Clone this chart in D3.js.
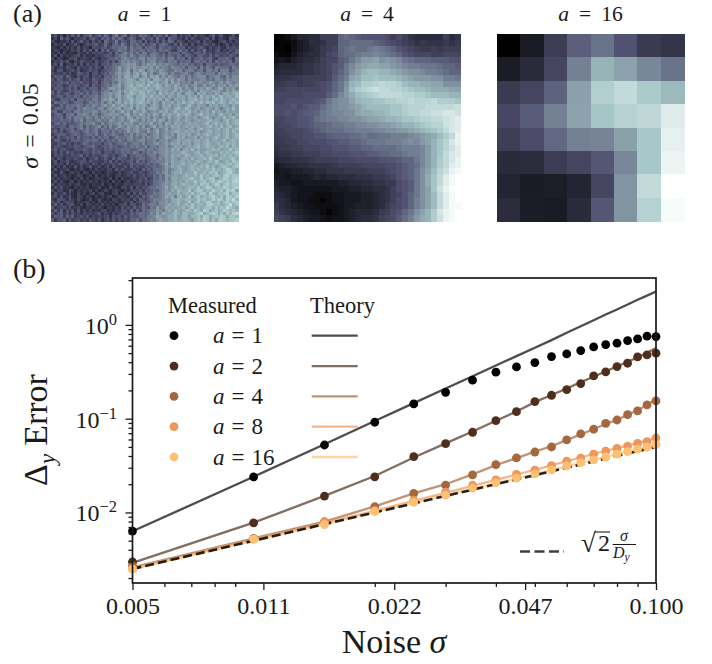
<!DOCTYPE html>
<html>
<head>
<meta charset="utf-8">
<script src="https://cdn.jsdelivr.net/npm/d3@7"></script>
<style>
body{margin:0;background:#fff;}
text{font-family:"Liberation Serif",serif;fill:#1a1a1a;}
</style>
</head>
<body>
<svg id="fig" width="712" height="664"></svg>
<script>
// panel (a)
// a=1: hex digit per cell, typed on a 64x64 grid. The grain is a hand estimate, the real one is too fine to read
var heatA1=[
"3524142636255735"+"6475368467365476"+"7536564735625345"+"2534314624521352",
"2416353143452564"+"3657475763576347"+"4563745275534252"+"5323452513421543",
"4213241524634253"+"5276458465477563"+"7354636476355324"+"3452534213452424",
"1432513353135456"+"3475367586476757"+"4567467643637452"+"5243553524135243",
"3214142425243154"+"4563576778586774"+"7676476565465635"+"3456425345325454",
"2431322435253526"+"2647456877587677"+"5767576764367563"+"6354734356243546",
"3142413214325253"+"5434637579786858"+"8578756476764765"+"3665645354546356",
"2514232345242324"+"3456546788697688"+"7688767576576476"+"5366546465454654",
"4143124452343253"+"2445667689878799"+"6989778688576747"+"4667567436667537",
"2435352143543425"+"3456464798989879"+"7899787687857677"+"4776757476676747",
"3526134352525345"+"2556577799a9a879"+"8a9a898988768786"+"7567477657566776",
"5234254325343535"+"4265678a89a9a99a"+"a9a8a89879887858"+"7858687587777587",
"4255234535234545"+"2456678a89b7a9ba"+"79a98a9877989688"+"8678588785888578",
"5343535236545255"+"3565779a9ab8ab9b"+"b8a78aa979778897"+"6898788869898788",
"3656365325355254"+"5367688a8bb9bb8a"+"b8bab8a8a9879979"+"7899968899769799",
"5365346456354365"+"4576789a9abba8bb"+"ab8bba9b9a8a9979"+"8889978799879899",
"4556564655645356"+"3677687a9abbabab"+"9bcab9ab8b9a8989"+"7a9989a989a8a989",
"5465346565456365"+"4678799b8abcabcb"+"acabcb9ba9ba89a8"+"9a88a89a8a9a8a9a",
"3656456463564666"+"4778aa9a8abbcbab"+"cabacbaaa9bab8a9"+"8b9a9ba89bb8a9a8",
"6365346566466576"+"5789799b9bacbbcb"+"acba9bab9ab9ba9b"+"9a8baa9bab98a9ba",
"6464565466757577"+"5899a9ab8abcbacc"+"abab9cabab9ba8bb"+"a8bab9a9ba9bbabc",
"4566466576476778"+"6899a8ab9acb9bbc"+"bacabab9ba9bab9b"+"ab9cabacabcabbac",
"6436665747767688"+"69a9ba8b9abcabbc"+"9babab9ba8baab9b"+"bcabab9bcacbabcb",
"4766764577756878"+"7979a8ab9bacabcb"+"ab9ba8baab9bacab"+"cabcacbcabcbacbc",
"6447576778768798"+"79a89b9aba9b9bab"+"a8aba8bab9aba9ac"+"a9baa8bab9aba9ba",
"4676577758798887"+"9979a9ab8aab8bab"+"8abba8aba9bcaacb"+"9ab9aba9ba8abaca",
"6744767588788899"+"79989a89b9a8ba9b"+"a89a9bab9acaabac"+"ab9bab9caba9baba",
"4676477858898798"+"6899a9a98ab8a9ba"+"8a9ba8babaacabcb"+"9abcabab9bcaab9b",
"5667478688879879"+"79898a89a8ba8a9a"+"9a8a98a9b9aba9ba"+"ab9abca9abacabca",
"6657667587968878"+"9787a989a89ba98a"+"8a9b9ba8a9ab9aba"+"9abaabcaba9bcabc",
"4675756567878897"+"6978989a8a9a88a9"+"99b89a8ba9bab9ab"+"abaabcabcabacabc",
"6556647767858678"+"9686978a98a99a8a"+"789b8a9a9bab9aba"+"babaabcabacabcab",
"4536566747868678"+"6876879789a89a89"+"9a79a89b8aabaa9b"+"a9bcabaabcabcabc",
"5646356766578678"+"5778686878a89a88"+"7a89b89a9abbaaba"+"bab9abcabbabcacb",
"3566645676567768"+"5686787668797989"+"9789a89a9a8babab"+"9ababcbabcabcabc",
"5364565647566575"+"7677568777897879"+"7989a89ba98bab9a"+"ab9bababcbabcabc",
"3664354666567677"+"5757676876887899"+"7889799a89abaabb"+"abbabcabbabcabcb",
"4355645354576565"+"6466756778678879"+"6889a89a9bab9bab"+"9bbabcbabcabcbcb",
"3554345465456675"+"4565766567687877"+"9688799a89bab9ab"+"abcabcbbabcbcacb",
"4635543355565465"+"5465656677766788"+"6887899a9bab8aba"+"cabaabbcbcabbdbc",
"3535364534355465"+"6355546576768757"+"6879899a9aaabcba"+"abcabcbabacbcbcd",
"2545343545635354"+"4565453567466776"+"5788689a9babaacb"+"abbcabcbcabcbcbc",
"4254244354352446"+"3464364655465677"+"5678798a9ba9abba"+"cabbcbdbabcbbcdb",
"3524353234553544"+"3353635354564756"+"4677888a9baabbab"+"abcbabcbdbabcbdc",
"2534252423534254"+"2534453643465565"+"5757689b8baabcab"+"bcabbcabcbcbcdbd",
"4242523252423523"+"4235254335364544"+"6567678a9babbaab"+"cbbcbdbcabcdcbcd",
"2523342132421324"+"2324425353345436"+"4657778a89abcaab"+"cbcbbcbdbcbcedcb",
"4225213423143142"+"3124322423453354"+"3566879a8abbcabb"+"bdbbcbdcdabcdecb",
"2523423124312314"+"1324213423435345"+"3557687a9abaabcb"+"bcbdbcbcdcbdecdd",
"4242332132413123"+"3212413142234354"+"6347687a8bbaabbc"+"dbbdbcddabcedcde",
"2524213413132423"+"1323142313423453"+"5457788a9ababacb"+"bdbcdbcdcedcdcee",
"5243324234213132"+"2412313224334443"+"6357789a9bbabcbb"+"bcbdcdbcedbdecdd",
"2535232132323122"+"4121422144252535"+"4677889b9acbbabc"+"cbdbcedbcdcedcde",
"4244225313232413"+"1243134213244453"+"6567689a9bacbbbd"+"acddbcceccdbedeb",
"2533524214231341"+"3412134142525364"+"4668789abaacabcb"+"dbcddbecbdcdebdd",
"4525235214313213"+"1323412433253536"+"5687789bab8bcabd"+"acdbccdecbdbedce",
"3255425324212412"+"4213143243425365"+"4678889a9bbcbbcc"+"bbdcdbcecedbedfc",
"5352453413234231"+"4231324224352456"+"6578799a9bbcbabd"+"acdbcedbcdbdecde",
"3635245522414323"+"2423231345255347"+"5788799ababcabcb"+"dbccbdedcdbcdfcd",
"6244535234213242"+"4213324253536457"+"6587a89bababbcac"+"dbcbcddbdbdcfdcb",
"3636253525242423"+"2442324355363647"+"6788a98abacbabcc"+"bdcbedbcdbcedcdc",
"5356352534243434"+"5243243454465677"+"6798a9baabcbaccb"+"bcdebcdedbdbdcef",
"3656364634535243"+"4345254536465577"+"6889ba9abbcabcca"+"ccdbedbcdcedbddc",
"6355636345343543"+"5245353545466757"+"7898abaabbcbbccb"+"acdcedbdbdedcdde"
];

// a=4: base 36 digit per cell, 32x32
var heatA4=[
"01246677"+"aaafgfed"+"dddcaca8"+"77777a78",
"01124577"+"8aaffggg"+"gfedcba9"+"89888989",
"11024567"+"9abfghgg"+"hihgfdcb"+"a99a9aaa",
"21135677"+"9bcfgghi"+"ijihgfdc"+"bbbaabbb",
"34356778"+"abbefhjl"+"lmklkjhg"+"fffeeedd",
"56667889"+"abdehjlm"+"nnmmlkji"+"ihhhgffe",
"67777889"+"abdfhkmo"+"ppoonmlk"+"kjiihgff",
"88899aaa"+"abegimnp"+"pqppponm"+"lllkkiih",
"99aa9aab"+"cdfhkopr"+"rstssrpo"+"onnmmkkk",
"aabbbbbb"+"cdfhlprs"+"tuttssrq"+"pponnnmm",
"bbbbbccc"+"cegjlnpq"+"rsttttss"+"rrqpppoo",
"bbcccccd"+"ehjkkmop"+"pqqrrsst"+"ssstrrrq",
"cccdcdee"+"gijkklmo"+"ppppqqrs"+"sstttttu",
"ccdcdeef"+"hijjkkmn"+"noopqqrs"+"sttuuvvu",
"bbccddeg"+"hiijjkkl"+"mmnoopqq"+"rssttuvw",
"abbcddef"+"fghhiijj"+"kkllmnoo"+"pqrssuvw",
"aabbbcde"+"fggghhii"+"ijjkkllm"+"nopqrtvw",
"9aabbccd"+"defffggh"+"gghhiiij"+"klmnprtx",
"99aabbcc"+"cddeeffg"+"hhhiiijk"+"jlmoqsvx",
"899aabbb"+"ccdddeef"+"fgggghii"+"ijloqsuw",
"78899aaa"+"bbcccddd"+"eeffgghi"+"ijloqtvw",
"6778889a"+"aaabbbcc"+"ccdddeff"+"hjlortvx",
"45667788"+"889aaaab"+"bbbccdef"+"gjlortwx",
"34455667"+"78889999"+"aaabcdef"+"hkmpsuxy",
"44344456"+"56677788"+"899abdef"+"hknqtwyz",
"54433444"+"44455667"+"78899cde"+"hknqtwyz",
"65543333"+"33444556"+"6778acde"+"hkmquxzz",
"76543332"+"22334445"+"5678abdf"+"hkmptwyz",
"87643322"+"12334445"+"5678acdf"+"ikmptwyz",
"97654332"+"22234455"+"5679bcdf"+"ikmptwyy",
"a8765433"+"21234566"+"679acdfh"+"kmorvxyz",
"ba976544"+"32334567"+"78abcegi"+"lnoruxyz"
];

// a=16: plain numbers 0..1, 8x8
var heatA16=[
[0.00,0.115,0.27,0.41,0.47,0.365,0.26,0.24],
[0.125,0.19,0.31,0.52,0.68,0.63,0.54,0.47],
[0.26,0.31,0.42,0.62,0.78,0.83,0.76,0.70],
[0.32,0.40,0.52,0.63,0.74,0.79,0.82,0.91],
[0.28,0.34,0.44,0.52,0.53,0.62,0.75,0.93],
[0.19,0.20,0.27,0.31,0.38,0.54,0.75,0.95],
[0.16,0.12,0.13,0.16,0.31,0.58,0.83,1.00],
[0.20,0.125,0.115,0.19,0.38,0.58,0.79,0.98]
];

var panelTitles=["1","4","16"];

// panel (b)
var sigmaVals=[0.005,0.01,0.015,0.02,0.025,0.03,0.035,0.04,0.045,0.05,0.055,0.06,0.065,0.07,0.075,0.08,0.085,0.09,0.095,0.1];

var measuredA1=[0.00633,0.0239,0.0524,0.0916,0.1435,0.191,0.257,0.313,0.356,0.396,0.459,0.49,0.532,0.582,0.616,0.638,0.68,0.709,0.757,0.75];
var measuredA2=[0.00298,0.00776,0.01496,0.024,0.0393,0.0541,0.0716,0.0952,0.1188,0.152,0.1776,0.204,0.2366,0.2857,0.315,0.359,0.39,0.4555,0.478,0.499];
var measuredA4=[0.0027,0.0053,0.00796,0.0115,0.016,0.0196,0.0251,0.0323,0.0381,0.0441,0.0499,0.0593,0.0687,0.0771,0.0893,0.0968,0.1104,0.1208,0.14,0.1545];
var measuredA8=[0.0025,0.0052,0.0079,0.0105,0.0135,0.0165,0.0195,0.0222,0.0255,0.0282,0.0315,0.0352,0.038,0.0418,0.045,0.0482,0.051,0.0546,0.0569,0.0622];
var measuredA16=[0.0025,0.0052,0.0074,0.0102,0.0128,0.0153,0.0182,0.0208,0.0232,0.0258,0.0285,0.0313,0.034,0.0364,0.039,0.0418,0.0445,0.0472,0.0498,0.0528];

var theoryA1=[0.0063,0.024,0.0534,0.0945,0.1466,0.2097,0.2838,0.3687,0.4645,0.571,0.688,0.825,0.967,1.12,1.29,1.46,1.65,1.85,2.05,2.27];
var theoryA2=[0.0029,0.0078,0.015,0.0245,0.0385,0.0545,0.073,0.095,0.119,0.15,0.179,0.21,0.245,0.28,0.32,0.36,0.405,0.45,0.505,0.568];
var theoryA4=[0.0026,0.0053,0.008,0.0116,0.016,0.02,0.0255,0.032,0.038,0.0445,0.051,0.059,0.068,0.077,0.088,0.097,0.11,0.123,0.14,0.162];
var theoryA8=[0.0025,0.0051,0.0077,0.0104,0.0133,0.0162,0.0192,0.0222,0.0254,0.0285,0.0318,0.0352,0.0386,0.042,0.0455,0.0485,0.0515,0.0548,0.0582,0.062];
var theoryA16=[0.0025,0.005,0.0075,0.0101,0.0126,0.0152,0.0178,0.0204,0.023,0.0256,0.0283,0.031,0.0337,0.0364,0.0391,0.0418,0.0445,0.0472,0.0498,0.0525];
var referenceLine=[0.0025,0.005,0.0075,0.01,0.0125,0.015,0.0175,0.02,0.0225,0.025,0.0275,0.03,0.0325,0.035,0.0375,0.04,0.0425,0.045,0.0475,0.05];

var seriesNames=["1","2","4","8","16"];
var measuredAll=[measuredA1,measuredA2,measuredA4,measuredA8,measuredA16];
var theoryAll=[theoryA1,theoryA2,theoryA4,theoryA8,theoryA16];
var dotColors=["#000000","#4f2f1c","#a3683f","#ef975a","#fec173"];

var xMajor=[0.005,0.010574,0.022361,0.047287,0.1];
var xMinor=[0.006,0.007,0.008,0.009,0.02,0.03,0.04,0.05,0.06,0.07,0.08,0.09];
var yMajor=[1,0.1,0.01];
var yMinor=[3,2,0.9,0.8,0.7,0.6,0.5,0.4,0.3,0.2,0.09,0.08,0.07,0.06,0.05,0.04,0.03,0.02,0.009,0.008,0.007,0.006,0.005,0.004,0.003,0.002];
var yExponents={1:"0",0.1:"\u22121",0.01:"\u22122"};

var svg=d3.select("#fig");

// matplotlib bone
var bone=d3.scaleLinear()
    .domain([0,0.365,0.746,1])
    .range(["#000000","#515171","#a6c7c7","#ffffff"]);

function toCells(rows,base){
    // strings of digits to numbers 0..1, number arrays go through untouched
    return rows.map(function(r){
        if(typeof r==="string"){
            return r.split("").map(function(c){ return parseInt(c,base)/(base-1); });
        }
        return r;
    });
}

function drawHeat(cells,left,norm){
    var top=34, size=187;
    var n=cells.length;
    var bx=d3.scaleBand().domain(d3.range(n)).range([left,left+size]);
    var by=d3.scaleBand().domain(d3.range(n)).range([top,top+size]);
    var g=svg.append("g").attr("shape-rendering","crispEdges");
    for(var i=0;i<n;i++){
        g.selectAll(".c"+i).data(cells[i].slice(0,n)).enter().append("rect")
            .attr("x",function(d,j){ return bx(j); })
            .attr("y",by(i))
            .attr("width",bx.bandwidth()+0.5)
            .attr("height",by.bandwidth()+0.5)
            .attr("fill",function(d){ return bone(norm(d)); });
    }
}

var panelLefts=[51,273.5,497];
// a=1 has a flatter look, its noise stretches the colour range
drawHeat(toCells(heatA1,16),panelLefts[0],d3.scaleLinear().domain([-0.2,1.25]).range([0,1]));
drawHeat(toCells(heatA4,36),panelLefts[1],d3.scaleLinear());
drawHeat(heatA16,panelLefts[2],d3.scaleLinear());

function mathLabel(parent,txt,value,size,gap){
    // "a = 1" style text, variable in italics, wide spacing round the equals sign
    var t=parent.append("text").style("font-size",size+"px");
    t.append("tspan").style("font-style","italic").text(txt);
    t.append("tspan").attr("dx",gap).text("=");
    t.append("tspan").attr("dx",gap).text(value);
    return t;
}

panelTitles.forEach(function(v,i){
    mathLabel(svg,"a",v,21.5,10)
        .attr("x",panelLefts[i]+93.5)
        .attr("y",21)
        .style("text-anchor","middle");
});

svg.append("text").attr("x",13).attr("y",22).style("font-size","26px").text("(a)");
svg.append("text").attr("x",13).attr("y",278).style("font-size","28px").text("(b)");

mathLabel(svg,"\u03c3","0.05",24,9)
    .attr("transform","translate(38,126) rotate(-90)")
    .style("text-anchor","middle");

// axes
var x=d3.scaleLog().domain([0.005,0.1]).range([132.5,656]);
var y=d3.scaleLog().domain([0.00177,3.16]).range([583,278]);

var lineGen=d3.line()
    .x(function(d,i){ return x(sigmaVals[i]); })
    .y(function(d){ return y(d); });

var plot=svg.append("g");

theoryAll.forEach(function(vals,k){
    plot.append("path")
        .attr("d",lineGen(vals))
        .attr("fill","none")
        .attr("stroke",dotColors[k])
        .attr("stroke-opacity",0.7)
        .attr("stroke-width",2.3);
});

plot.append("path")
    .attr("d",lineGen(referenceLine))
    .attr("fill","none")
    .attr("stroke","#000000")
    .attr("stroke-opacity",0.85)
    .attr("stroke-width",2.6)
    .attr("stroke-dasharray","9,4");

measuredAll.forEach(function(vals,k){
    plot.selectAll(".m"+k).data(vals).enter().append("circle")
        .attr("cx",function(d,i){ return x(sigmaVals[i]); })
        .attr("cy",function(d){ return y(d); })
        .attr("r",4.4)
        .attr("fill",dotColors[k]);
});

// spines
svg.append("rect")
    .attr("x",132.5).attr("y",278)
    .attr("width",523.5).attr("height",305)
    .attr("fill","none")
    .attr("stroke","#1a1a1a")
    .attr("stroke-width",1.7);

var xAxisMajor=d3.axisBottom(x).tickValues(xMajor).tickSize(7).tickFormat(d3.format(".3f"));
var xAxisMinor=d3.axisBottom(x).tickValues(xMinor).tickSize(4).tickFormat("");
var yAxisMajor=d3.axisLeft(y).tickValues(yMajor).tickSize(7).tickFormat("");
var yAxisMinor=d3.axisLeft(y).tickValues(yMinor).tickSize(4).tickFormat("");

[xAxisMajor,xAxisMinor].forEach(function(ax){
    var g=svg.append("g").attr("transform","translate(0,583)").call(ax);
    g.select(".domain").remove();
    g.selectAll("line").attr("stroke","#1a1a1a").attr("stroke-width",1.3);
    g.selectAll("text").attr("dy",0).attr("y",31).style("font-size","24px").style("fill","#1a1a1a");
    g.attr("font-family",null).attr("font-size",null);
});

[yAxisMajor,yAxisMinor].forEach(function(ax){
    var g=svg.append("g").attr("transform","translate(132.5,0)").call(ax);
    g.select(".domain").remove();
    g.selectAll("line").attr("stroke","#1a1a1a").attr("stroke-width",1.3);
});

yMajor.forEach(function(v){
    var t=svg.append("text")
        .attr("x",117)
        .attr("y",y(v)+9)
        .style("text-anchor","end")
        .style("font-size","24px");
    t.append("tspan").text("10");
    t.append("tspan").attr("dy",-9).style("font-size","16.5px").text(yExponents[v]);
});

// axis titles
var xt=svg.append("text").attr("x",394).attr("y",653).style("text-anchor","middle").style("font-size","34px");
xt.append("tspan").text("Noise ");
xt.append("tspan").style("font-style","italic").text("\u03c3");

var yt=svg.append("text").attr("transform","translate(47,430) rotate(-90)").style("text-anchor","middle").style("font-size","34px");
yt.append("tspan").text("\u0394");
yt.append("tspan").attr("dy",8).style("font-size","23px").style("font-style","italic").text("y");
yt.append("tspan").attr("dy",-8).attr("dx",8).text("Error");

// legend
svg.append("text").attr("x",168).attr("y",312.5).style("font-size","22.5px").text("Measured");
svg.append("text").attr("x",310).attr("y",312.5).style("font-size","22.5px").text("Theory");

var legendY=d3.scalePoint().domain(seriesNames).range([335.7,457]);

seriesNames.forEach(function(name,k){
    var ly=legendY(name);
    svg.append("circle")
        .attr("cx",174).attr("cy",ly).attr("r",4.4)
        .attr("fill",dotColors[k]);
    mathLabel(svg,"a",name,23,7).attr("x",213).attr("y",ly+7.5);
    svg.append("line")
        .attr("x1",311.7).attr("x2",357.7)
        .attr("y1",ly).attr("y2",ly)
        .attr("stroke",dotColors[k])
        .attr("stroke-opacity",0.7)
        .attr("stroke-width",2.3);
});

// sqrt(2) sigma/Dy legend entry
svg.append("line")
    .attr("x1",520).attr("x2",564)
    .attr("y1",551.5).attr("y2",551.5)
    .attr("stroke","#000000")
    .attr("stroke-opacity",0.75)
    .attr("stroke-width",2.5)
    .attr("stroke-dasharray","10,4.5");

svg.append("text").attr("x",581).attr("y",552).style("font-size","27px").text("\u221a");
svg.append("text").attr("x",598).attr("y",551).style("font-size","24px").text("2");
svg.append("line").attr("x1",595).attr("x2",610).attr("y1",532).attr("y2",532).attr("stroke","#1a1a1a").attr("stroke-width",1.1);
svg.append("text").attr("x",624).attr("y",540.5).style("text-anchor","middle").style("font-size","16px").style("font-style","italic").text("\u03c3");
svg.append("line").attr("x1",612.7).attr("x2",636).attr("y1",544.5).attr("y2",544.5).attr("stroke","#1a1a1a").attr("stroke-width",1);
var dy=svg.append("text").attr("x",613).attr("y",558).style("font-size","16px").style("font-style","italic");
dy.append("tspan").text("D");
dy.append("tspan").attr("dy",3).style("font-size","11.5px").text("y");
</script>
</body>
</html>
